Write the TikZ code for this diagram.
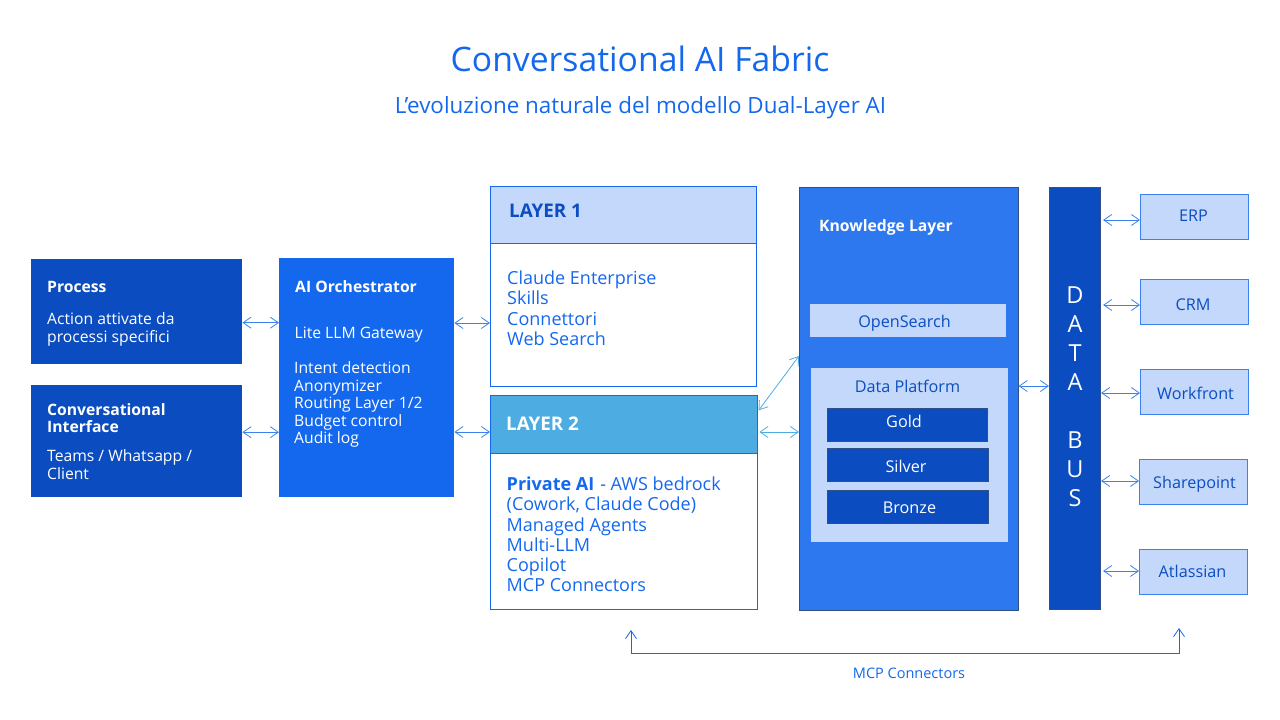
\documentclass[tikz,border=0pt]{standalone}
\usepackage{fontspec}
\setmainfont{Open Sans}
\usetikzlibrary{arrows.meta,positioning,calc}

\definecolor{navy}{HTML}{0B4DC0}
\definecolor{royal}{HTML}{1368EE}
\definecolor{midblue}{HTML}{2E78EF}
\definecolor{pale}{HTML}{C4D8FB}
\definecolor{sky}{HTML}{4DADE2}
\definecolor{linkblue}{HTML}{3B82F0}
\definecolor{edge}{HTML}{2F4F86}

\tikzset{
    box/.style={rectangle, inner sep=0pt, anchor=north west},
    navybox/.style={box, fill=navy},
    tierbox/.style={navybox, draw=edge, line width=0.6pt, minimum height=33pt},
    outlinebox/.style={box, draw=royal, line width=0.9pt},
    source/.style={box, fill=pale, draw=linkblue, line width=0.9pt, minimum width=108pt, minimum height=45pt, anchor=center},
    whitetxt/.style={inner sep=0pt, anchor=north west, align=left, text=white, font=\fontsize{15.7}{17.5}\selectfont},
    bluetxt/.style={inner sep=0pt, anchor=north west, align=left, text=royal, font=\fontsize{18}{20.1}\selectfont},
    midtxt/.style={inner sep=0pt, anchor=base, font=\fontsize{16.2}{18}\selectfont},
    link/.style={draw=linkblue, line width=0.8pt, {Straight Barb[length=8pt,width=11pt]}-{Straight Barb[length=8pt,width=11pt]}},
    skylink/.style={link, draw=sky, shorten <=2pt}
}

\begin{document}
\begin{tikzpicture}[x=1pt, y=-1pt]
    \useasboundingbox (0,0) rectangle (1280,720);

    % the titles
    \node[text=royal, font=\fontsize{33.7}{40}\selectfont] (title) at (640,59) {Conversational AI Fabric};
    \node[text=royal, font=\fontsize{22.4}{26}\selectfont] (subtitle) at (640.5,108) {L’evoluzione naturale del modello Dual-Layer AI};

    % left column
    \node[navybox, minimum width=211pt, minimum height=105pt] (process) at (31,259) {};
    \node[navybox, minimum width=211pt, minimum height=112pt] (chat) at (31,385) {};
    \node[whitetxt] (processhead) at (47,281) {\textbf{Process}};
    \node[whitetxt] (processtxt) at (47,312.5) {Action attivate da\\processi specifici};
    \node[whitetxt] (chathead) at (47,403) {\textbf{Conversational}\\\textbf{Interface}};
    \node[whitetxt] (chattxt) at (47,449.5) {Teams / Whatsapp /\\Client};

    % orchestrator
    \node[box, fill=royal, minimum width=175pt, minimum height=239pt] (orch) at (279,258) {};
    \node[whitetxt] (orchhead) at (295,280) {\textbf{AI Orchestrator}};
    \node[whitetxt] (orchlite) at (294.5,327) {Lite LLM Gateway};
    \node[whitetxt] (orchtxt) at (294,361.5) {Intent detection\\Anonymizer\\Routing Layer 1/2\\Budget control\\Audit log};

    % layer 1
    \node[outlinebox, minimum width=265.5pt, minimum height=199.5pt] (layerone) at (490,186) {};
    \node[outlinebox, fill=pale, minimum width=265.5pt, minimum height=57pt] (layeronehead) at (490,186) {};
    \node[inner sep=0pt, anchor=west, text=navy, font=\fontsize{18.8}{22}\selectfont\bfseries] (layeronetxt) at (509,211) {LAYER 1};
    \node[bluetxt] (layeronebody) at (507,271) {Claude Enterprise\\Skills\\Connettori\\Web Search};

    % layer 2
    \node[outlinebox, minimum width=266.5pt, minimum height=214.5pt] (layertwo) at (490,394.5) {};
    \node[outlinebox, fill=sky, minimum width=266.5pt, minimum height=58pt] (layertwohead) at (490,394.5) {};
    \node[inner sep=0pt, anchor=west, text=white, font=\fontsize{18.8}{22}\selectfont\bfseries] (layertwotxt) at (506,424) {LAYER 2};
    \node[bluetxt] (layertwobody) at (506.5,477) {\textbf{Private AI}\hspace{6pt}- AWS bedrock\\(Cowork, Claude Code)\\Managed Agents\\Multi-LLM\\Copilot\\MCP Connectors};

    % knowledge layer
    \node[box, fill=midblue, draw=edge, line width=0.6pt, minimum width=219pt, minimum height=423pt] (knowledge) at (799,186.5) {};
    \node[inner sep=0pt, anchor=base west, text=white, font=\fontsize{15.7}{18}\selectfont] (knowledgehead) at (819,231) {\textbf{Knowledge Layer}};
    \node[box, fill=pale, minimum width=196pt, minimum height=33pt] (opensearch) at (810,304) {};
    \node[midtxt, text=navy] (opensearchtxt) at (904.5,327) {OpenSearch};
    \node[box, fill=pale, minimum width=197pt, minimum height=174pt] (platform) at (811,368) {};
    \node[midtxt, text=navy] (platformtxt) at (907.5,392) {Data Platform};

    \node[tierbox, minimum width=160pt] (gold) at (826.5,408) {};
    \node[tierbox, minimum width=161pt] (silver) at (826.5,448) {};
    \node[tierbox, minimum width=161pt] (bronze) at (826.5,490) {};
    \node[midtxt, text=white] (goldtxt) at (904,427) {Gold};
    \node[midtxt, text=white] (silvertxt) at (906,472) {Silver};
    \node[midtxt, text=white] (bronzetxt) at (909.5,513) {Bronze};

    % data bus
    \node[navybox, draw=edge, line width=0.6pt, minimum width=51pt, minimum height=422pt] (bus) at (1049,186.5) {};
    \node[text=white, align=center, font=\fontsize{23.5}{29}\selectfont] (bustxt) at (1075,396.5) {D\\A\\T\\A\\[29pt]B\\U\\S};

    % the sources
    \node[source] (erp) at (1194.5,217) {};
    \node[source] (crm) at (1194.5,302) {};
    \node[source] (workfront) at (1194.5,392) {};
    \node[source] (sharepoint) at (1193.5,482) {};
    \node[source] (atlassian) at (1193.5,572) {};
    \foreach \src/\txt/\xpos/\ypos in {erp/ERP/1193.5/221, crm/CRM/1193/310, workfront/Workfront/1195.5/399, sharepoint/Sharepoint/1194.5/488, atlassian/Atlassian/1192.5/577}
        \node[midtxt, text=navy] (\src txt) at (\xpos,\ypos) {\txt};

    % arrows between the blocks
    \draw[link] ([yshift=-11pt]process.east) -- ([yshift=-11pt]process.east -| orch.west);
    \draw[link] ([yshift=9pt]chat.east) -- ([yshift=9pt]chat.east -| orch.west);
    \draw[link] (orch.east |- 0,323) -- (layerone.west |- 0,323);
    \draw[link] (orch.east |- 0,432) -- (layertwo.west |- 0,432);
    \draw[skylink] (layertwohead.east |- 0,412) -- (knowledge.west |- 0,356);
    \draw[skylink] (layertwohead.east |- 0,432) -- (knowledge.west |- 0,432);
    \draw[link] (knowledge.east |- 0,386) -- (bus.west |- 0,386);

    % arrows from the bus
    \foreach \src/\ypos/\gap in {erp/220/2.5pt, crm/305/2.5pt, workfront/393/0.5pt, sharepoint/481/0.5pt, atlassian/571/2.5pt}
        \draw[link, shorten <=\gap] (bus.east |- 0,\ypos) -- (\src.west |- 0,\ypos);

    % MCP connection at the bottom
    \coordinate (mcpleft) at (631,630);
    \coordinate (mcpright) at (1179,628);
    \draw[link, draw=royal] (mcpleft) -- (631,653.5) -- (1179,653.5) -- (mcpright);
    \node[text=royal, font=\fontsize{14.5}{16}\selectfont] (mcptxt) at (909,673) {MCP Connectors};
\end{tikzpicture}
\end{document}
